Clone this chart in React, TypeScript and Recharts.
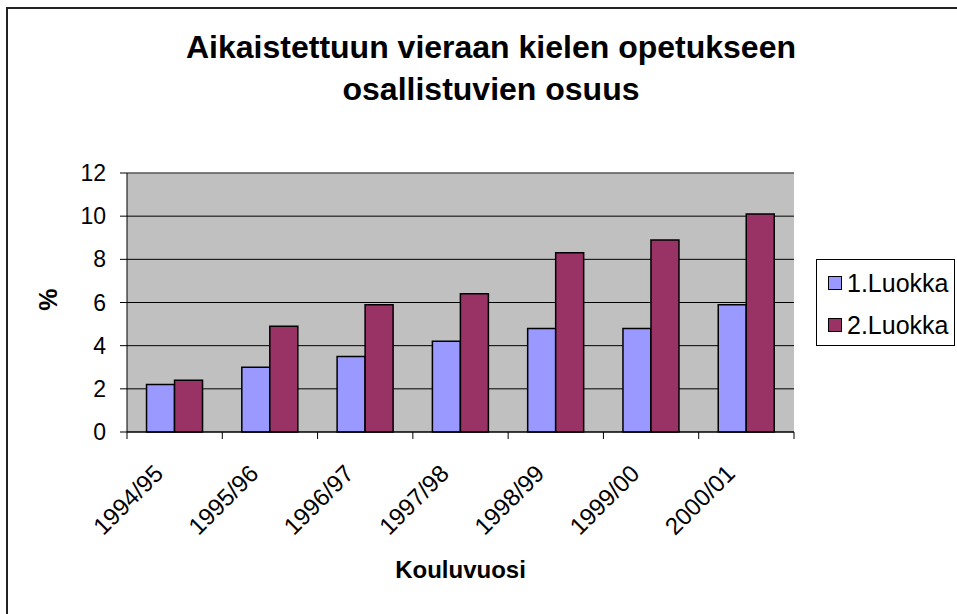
import React from "react";
import {
  BarChart,
  Bar,
  XAxis,
  YAxis,
  CartesianGrid,
  Legend,
  ReferenceLine,
} from "recharts";

const years = ["1994/95", "1995/96", "1996/97", "1997/98", "1998/99", "1999/00", "2000/01"];
const luokka1 = [2.2, 3.0, 3.5, 4.2, 4.8, 4.8, 5.9];
const luokka2 = [2.4, 4.9, 5.9, 6.4, 8.3, 8.9, 10.1];
const yTicks = [0, 2, 4, 6, 8, 10, 12];

const SERIES = [
  { key: "l1", name: "1.Luokka", color: "#9999FF" },
  { key: "l2", name: "2.Luokka", color: "#993366" },
];

const FONT = '"Liberation Sans", Arial, sans-serif';

const data = years.map((year, i) => ({ year, l1: luokka1[i], l2: luokka2[i] }));

// category ticks: label rotated, tick marks on the category boundaries
const XTick = (props: any) => {
  const { x, y, payload, index, visibleTicksCount } = props;
  const half = payload.offset || 0;
  const isLast = index === visibleTicksCount - 1;
  const tx = x - 10;
  const ty = y + 43;
  return (
    <g>
      <line x1={x - half} y1={y} x2={x - half} y2={y + 7} stroke="#000" />
      {isLast && <line x1={x + half} y1={y} x2={x + half} y2={y + 7} stroke="#000" />}
      <text
        x={tx}
        y={ty}
        textAnchor="end"
        fontSize={24}
        fontFamily={FONT}
        fill="#000"
        transform={`rotate(-45, ${tx}, ${ty})`}
      >
        {payload.value}
      </text>
    </g>
  );
};

const LegendBox = () => (
  <div
    style={{
      position: "absolute",
      left: 0,
      top: 0,
      border: "1px solid #000",
      background: "#fff",
      width: 139,
      height: 87,
      boxSizing: "border-box",
      padding: "4px 0 0 11px",
      fontFamily: FONT,
      fontSize: 25,
      color: "#000",
    }}
  >
    {SERIES.map((s) => (
      <div key={s.key} style={{ display: "flex", alignItems: "center", height: 38, marginBottom: 4, whiteSpace: "nowrap" }}>
        <span
          style={{
            display: "inline-block",
            width: 12,
            height: 12,
            background: s.color,
            border: "1.5px solid #000",
            marginRight: 5,
          }}
        />
        <span>{s.name}</span>
      </div>
    ))}
  </div>
);

export default function App() {
  return (
    <div
      style={{
        position: "absolute",
        left: 0,
        top: 0,
        width: 957,
        height: 614,
        overflow: "hidden",
        background: "#fff",
      }}
    >
      <div
        style={{
          position: "absolute",
          left: 6,
          top: 7,
          width: 980,
          height: 640,
          border: "2px solid #222",
        }}
      />
      <div
        style={{
          position: "absolute",
          left: 0,
          top: 26,
          width: 982,
          textAlign: "center",
          fontFamily: FONT,
          fontWeight: "bold",
          fontSize: 32,
          lineHeight: "42px",
          color: "#000",
        }}
      >
        Aikaistettuun vieraan kielen opetukseen
        <br />
        osallistuvien osuus
      </div>
      <div style={{ position: "absolute", left: 0, top: 0 }}>
        <BarChart
          width={957}
          height={614}
          data={data}
          margin={{ top: 173, right: 163, bottom: 0, left: 0 }}
          barCategoryGap="20.5%"
          barGap={0}
        >
          <CartesianGrid vertical={false} stroke="#000" fill="#C0C0C0" fillOpacity={1} />
          <ReferenceLine y={12} stroke="#808080" />
          <XAxis
            dataKey="year"
            height={182}
            tickLine={false}
            tickSize={0}
            tickMargin={0}
            axisLine={{ stroke: "#000" }}
            interval={0}
            tick={<XTick />}
            label={(p: any) => {
              const vb = p.viewBox;
              return (
                <text
                  x={vb.x + vb.width / 2}
                  y={vb.y + 146}
                  textAnchor="middle"
                  fontFamily={FONT}
                  fontWeight="bold"
                  fontSize={24}
                  fill="#000"
                >
                  Kouluvuosi
                </text>
              );
            }}
          />
          <YAxis
            width={127}
            domain={[0, 12]}
            ticks={yTicks}
            interval={0}
            tickSize={7}
            tickMargin={14}
            axisLine={{ stroke: "#000" }}
            tickLine={{ stroke: "#000" }}
            tick={{ fontSize: 23, fontFamily: FONT, fill: "#000" }}
            label={(p: any) => {
              const vb = p.viewBox;
              const cx = vb.x + 48;
              const cy = vb.y + vb.height / 2 - 3;
              return (
                <text
                  x={cx}
                  y={cy}
                  textAnchor="middle"
                  dominantBaseline="central"
                  fontFamily={FONT}
                  fontWeight="bold"
                  fontSize={25}
                  fill="#000"
                  transform={`rotate(-90, ${cx}, ${cy})`}
                >
                  %
                </text>
              );
            }}
          />
          <YAxis
            yAxisId="right"
            orientation="right"
            width={0}
            domain={[0, 12]}
            ticks={yTicks}
            tick={false}
            tickLine={false}
            axisLine={{ stroke: "#808080" }}
          />
          <Legend
            content={<LegendBox />}
            wrapperStyle={{ position: "absolute", left: 816, top: 259, width: 0, height: 0, overflow: "visible" }}
          />
          {SERIES.map((s) => (
            <Bar
              key={s.key}
              dataKey={s.key}
              name={s.name}
              fill={s.color}
              stroke="#000"
              strokeWidth={1.5}
              isAnimationActive={false}
            />
          ))}
        </BarChart>
      </div>
    </div>
  );
}
